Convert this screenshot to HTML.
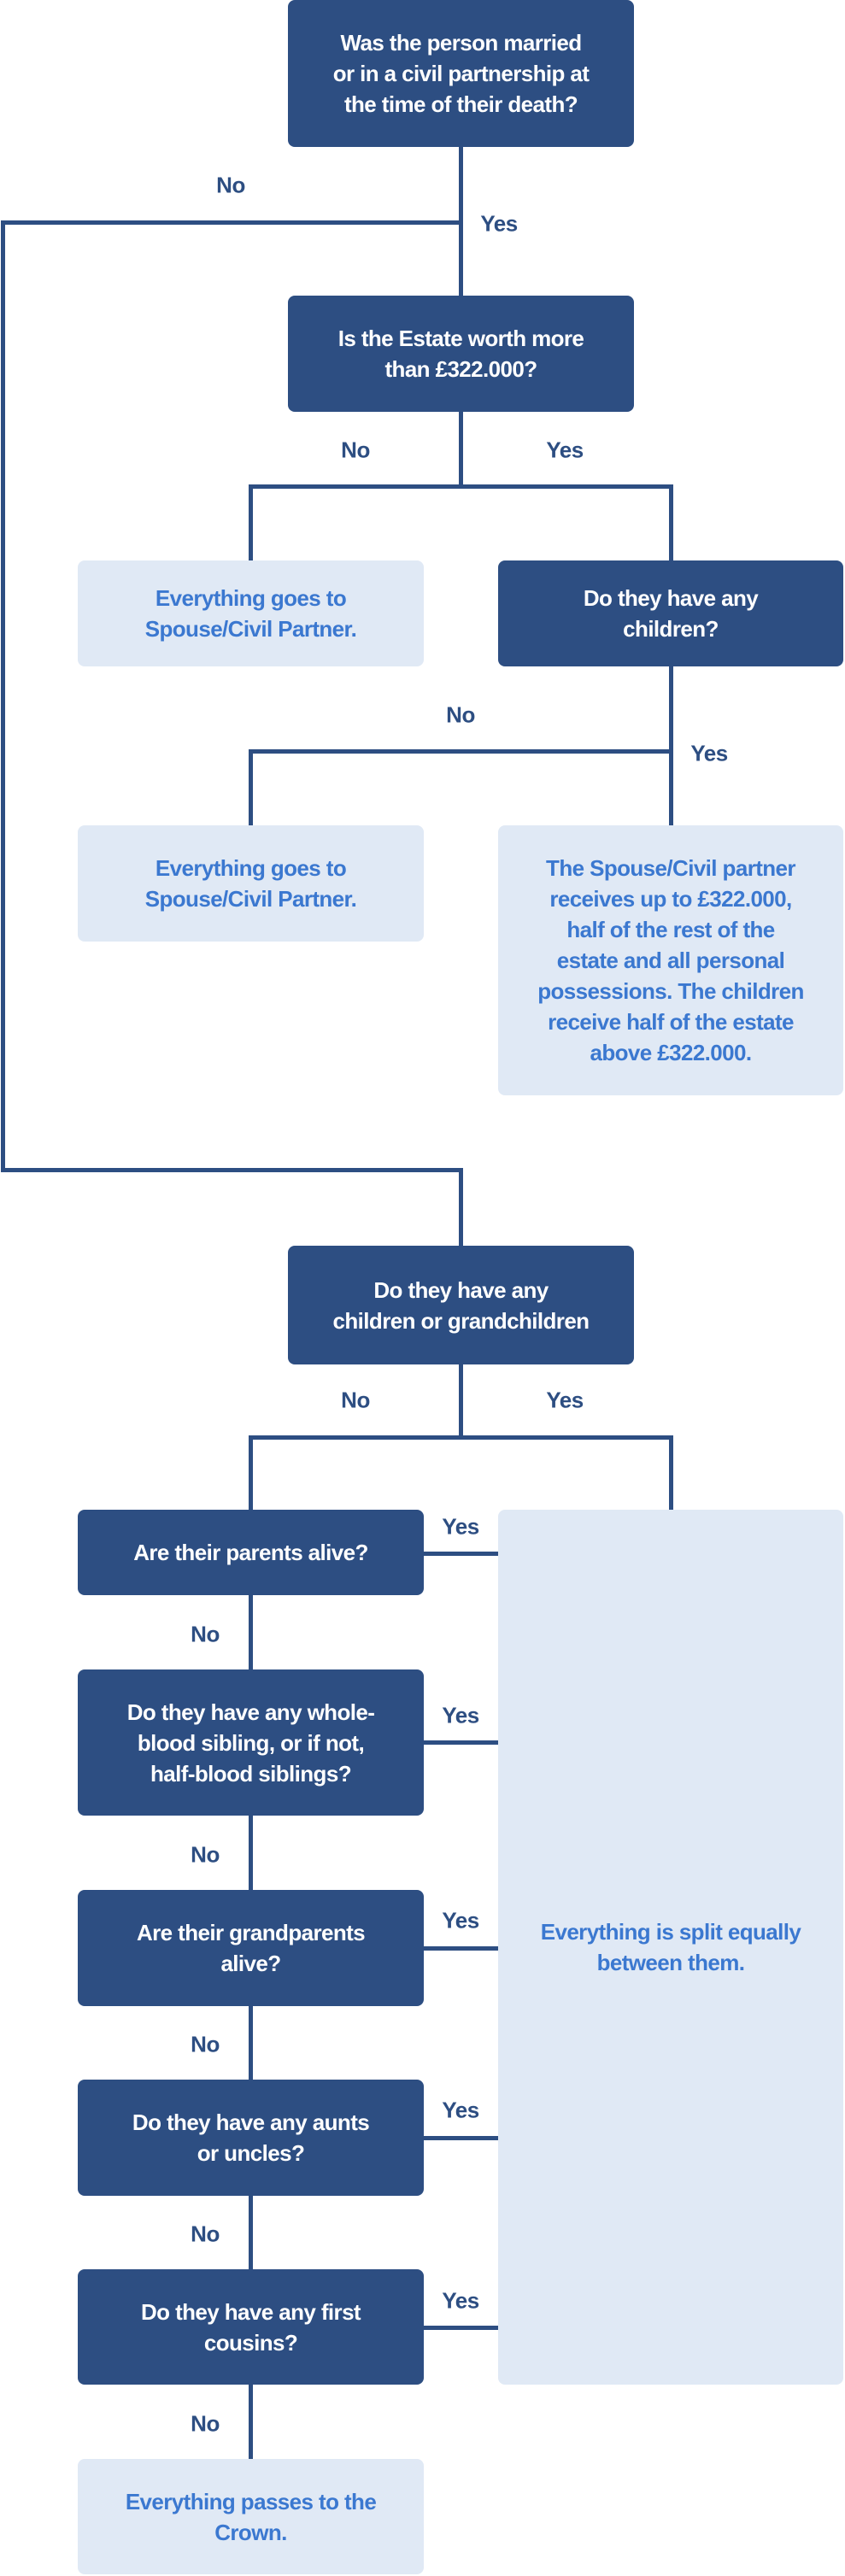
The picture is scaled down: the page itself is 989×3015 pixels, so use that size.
<!DOCTYPE html>
<html><head><meta charset="utf-8"><style>
body{margin:0;width:989px;height:3015px;position:relative;background:#fff;overflow:hidden;font-family:"Liberation Sans",sans-serif;}
.b{position:absolute;display:flex;align-items:center;justify-content:center;text-align:center;border-radius:8px;font-weight:700;font-size:26px;line-height:36px;box-sizing:border-box;padding:0 4px;letter-spacing:-0.6px;white-space:nowrap}
.d{background:#2d4e82;color:#fff}
.l{background:#e0e9f5;color:#3b78d0}
.h{position:absolute;height:5px;background:#2d4e82}
.v{position:absolute;width:5px;background:#2d4e82}
.t{position:absolute;transform:translate(-50%,-50%);color:#2d4e82;font-size:26px;font-weight:700;letter-spacing:-0.5px}
</style></head><body>
<div class="v" style="left:537px;top:172px;height:174px"></div>
<div class="h" style="left:1px;top:258px;width:541px"></div>
<div class="v" style="left:1px;top:258px;height:1113px"></div>
<div class="h" style="left:1px;top:1367px;width:541px"></div>
<div class="v" style="left:537px;top:1367px;height:91px"></div>
<div class="v" style="left:537px;top:482px;height:89px"></div>
<div class="h" style="left:291px;top:567px;width:497px"></div>
<div class="v" style="left:291px;top:567px;height:89px"></div>
<div class="v" style="left:783px;top:567px;height:89px"></div>
<div class="v" style="left:783px;top:780px;height:186px"></div>
<div class="h" style="left:291px;top:877px;width:497px"></div>
<div class="v" style="left:291px;top:877px;height:89px"></div>
<div class="v" style="left:537px;top:1597px;height:87px"></div>
<div class="h" style="left:291px;top:1680px;width:497px"></div>
<div class="v" style="left:291px;top:1680px;height:87px"></div>
<div class="v" style="left:783px;top:1680px;height:87px"></div>
<div class="v" style="left:291px;top:1867px;height:1011px"></div>
<div class="h" style="left:496px;top:1816px;width:87px"></div>
<div class="h" style="left:496px;top:2037px;width:87px"></div>
<div class="h" style="left:496px;top:2278px;width:87px"></div>
<div class="h" style="left:496px;top:2500px;width:87px"></div>
<div class="h" style="left:496px;top:2722px;width:87px"></div>
<div class="b d" style="left:337px;top:0;width:405px;height:172px">Was the person married<br>or in a civil partnership at<br>the time of their death?</div>
<div class="b d" style="left:337px;top:346px;width:405px;height:136px">Is the Estate worth more<br>than £322.000?</div>
<div class="b l" style="left:91px;top:656px;width:405px;height:124px">Everything goes to<br>Spouse/Civil Partner.</div>
<div class="b d" style="left:583px;top:656px;width:404px;height:124px">Do they have any<br>children?</div>
<div class="b l" style="left:91px;top:966px;width:405px;height:136px">Everything goes to<br>Spouse/Civil Partner.</div>
<div class="b l" style="left:583px;top:966px;width:404px;height:316px">The Spouse/Civil partner<br>receives up to £322.000,<br>half of the rest of the<br>estate and all personal<br>possessions. The children<br>receive half of the estate<br>above £322.000.</div>
<div class="b d" style="left:337px;top:1458px;width:405px;height:139px">Do they have any<br>children or grandchildren</div>
<div class="b d" style="left:91px;top:1767px;width:405px;height:100px">Are their parents alive?</div>
<div class="b d" style="left:91px;top:1954px;width:405px;height:171px">Do they have any whole-<br>blood sibling, or if not,<br>half-blood siblings?</div>
<div class="b d" style="left:91px;top:2212px;width:405px;height:136px">Are their grandparents<br>alive?</div>
<div class="b d" style="left:91px;top:2434px;width:405px;height:136px">Do they have any aunts<br>or uncles?</div>
<div class="b d" style="left:91px;top:2656px;width:405px;height:135px">Do they have any first<br>cousins?</div>
<div class="b l" style="left:91px;top:2878px;width:405px;height:135px">Everything passes to the<br>Crown.</div>
<div class="b l" style="left:583px;top:1767px;width:404px;height:1024px">Everything is split equally<br>between them.</div>
<div class="t" style="left:270px;top:217px">No</div>
<div class="t" style="left:584px;top:262px">Yes</div>
<div class="t" style="left:416px;top:527px">No</div>
<div class="t" style="left:661px;top:527px">Yes</div>
<div class="t" style="left:539px;top:837px">No</div>
<div class="t" style="left:830px;top:882px">Yes</div>
<div class="t" style="left:416px;top:1639px">No</div>
<div class="t" style="left:661px;top:1639px">Yes</div>
<div class="t" style="left:539px;top:1787px">Yes</div>
<div class="t" style="left:539px;top:2008px">Yes</div>
<div class="t" style="left:539px;top:2248px">Yes</div>
<div class="t" style="left:539px;top:2470px">Yes</div>
<div class="t" style="left:539px;top:2693px">Yes</div>
<div class="t" style="left:240px;top:1913px">No</div>
<div class="t" style="left:240px;top:2171px">No</div>
<div class="t" style="left:240px;top:2393px">No</div>
<div class="t" style="left:240px;top:2615px">No</div>
<div class="t" style="left:240px;top:2837px">No</div>
</body></html>
